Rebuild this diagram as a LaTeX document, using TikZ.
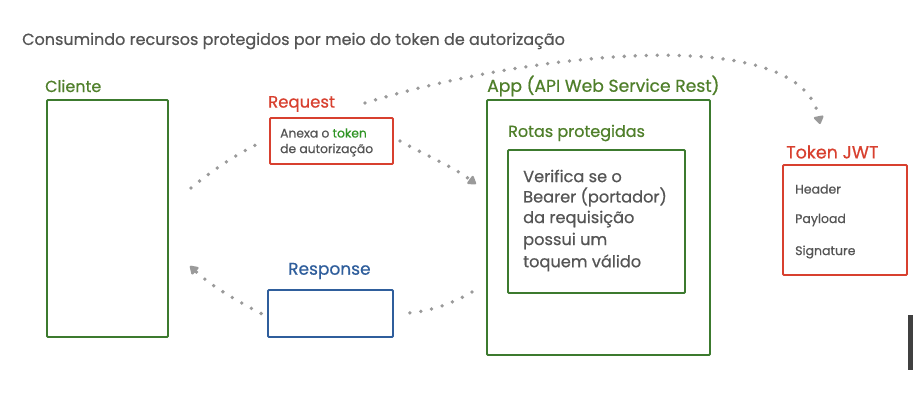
\documentclass[tikz,border=0pt]{standalone}
\usepackage{fontspec}
\setmainfont{Poppins}[FakeBold=0.6]
\usetikzlibrary{arrows.meta}
\definecolor{dgreen}{HTML}{3C7A2E}
\definecolor{lgreen}{HTML}{4F7F2A}
\definecolor{dred}{HTML}{D8402F}
\definecolor{dblue}{HTML}{2F5E9C}
\definecolor{tgray}{HTML}{555555}
\definecolor{dotgray}{HTML}{9A9A9A}
\tikzset{
  box/.style={draw, line width=1.8pt, rounded corners=1pt, inner sep=0pt},
  gbox/.style={box, draw=dgreen},
  rbox/.style={box, draw=dred},
  bbox/.style={box, draw=dblue},
  lbl/.style={anchor=west, inner sep=0pt},
  txt/.style={anchor=west, inner sep=0pt, text=tgray},
  dotline/.style={draw=dotgray, line width=3.8pt, line cap=round, dash pattern=on 0pt off 11pt},
  dotarrow/.style={dotline, -{Triangle[length=9pt,width=11pt,round]}},
}
\begin{document}
\begin{tikzpicture}[x=1pt,y=-1pt]
\useasboundingbox (0,0) rectangle (913,420);
\fill[white] (0,0) rectangle (913,420);
% title
\node[txt, font=\fontsize{16}{18}\selectfont] (title) at (22,41) {Consumindo recursos protegidos por meio do token de autorização};
% Cliente
\node[lbl, text=lgreen, font=\fontsize{16}{18}\selectfont] (clientelbl) at (45,86) {Cliente};
\node[gbox, minimum width=121pt, minimum height=237pt] (cliente) at (107.5,218.5) {};
% Request
\node[lbl, text=dred, font=\fontsize{16.5}{18}\selectfont] (reqlbl) at (268,104) {Request};
\node[rbox, minimum width=123pt, minimum height=46pt] (request) at (331.5,141) {};
\node[txt, font=\fontsize{12.3}{14}\selectfont] (req1) at (280,133) {Anexa o \textcolor{dgreen!80!green}{token}};
\node[txt, font=\fontsize{12.3}{14}\selectfont] (req2) at (280,150) {de autorização};
% App
\node[lbl, text=lgreen, font=\fontsize{17.2}{19}\selectfont] (applbl) at (487,86) {App (API Web Service Rest)};
\node[gbox, minimum width=223pt, minimum height=255pt] (app) at (598.5,227.5) {};
\node[lbl, text=lgreen, font=\fontsize{16}{18}\selectfont] (rotaslbl) at (508,133) {Rotas protegidas};
\node[gbox, minimum width=177pt, minimum height=143pt] (rotas) at (596.5,221.5) {};
\node[txt, font=\fontsize{16.2}{18}\selectfont] (v1) at (523,176) {Verifica se o};
\node[txt, font=\fontsize{16.2}{18}\selectfont] (v2) at (523,197) {Bearer (portador)};
\node[txt, font=\fontsize{16.2}{18}\selectfont] (v3) at (523,219) {da requisição};
\node[txt, font=\fontsize{16.2}{18}\selectfont] (v4) at (523,241) {possui um};
\node[txt, font=\fontsize{16.2}{18}\selectfont] (v5) at (523,263) {toquem válido};
% Token JWT
\node[lbl, text=dred, font=\fontsize{17.5}{19}\selectfont] (toklbl) at (786,152) {Token JWT};
\node[rbox, minimum width=124pt, minimum height=110pt] (token) at (845,220) {};
\node[txt, font=\fontsize{12.5}{14}\selectfont] (t1) at (795,189) {Header};
\node[txt, font=\fontsize{12.5}{14}\selectfont] (t2) at (795,220) {Payload};
\node[txt, font=\fontsize{12.5}{14}\selectfont] (t3) at (795,252) {Signature};
% Response
\node[lbl, text=dblue, font=\fontsize{17}{19}\selectfont] (resplbl) at (288,271) {Response};
\node[bbox, minimum width=125pt, minimum height=47pt] (response) at (330.5,313.5) {};
% connector end points
\coordinate (c1) at (191,188);
\coordinate (c2) at (476,184);
\coordinate (c3) at (365,103);
\coordinate (c4) at (820,124);
\coordinate (c5) at (472,292);
\coordinate (c6) at (190,266);
% dotted connectors
\path[dotline] (c1) .. controls (215,168) and (240,152) .. ([xshift=-5pt]request.west);
\path[dotarrow] ([xshift=6pt]request.east) .. controls (425,155) and (450,165) .. (c2);
\path[dotarrow] (c3) .. controls (520,55) and (800,20) .. (c4);
\path[dotline] (c5) .. controls (450,305) and (425,313) .. ([xshift=6pt]response.east);
\path[dotarrow] ([xshift=-6pt]response.west) .. controls (235,300) and (210,285) .. (c6);
% screen edge artifact
\fill[black!75] (908,315) rectangle (913,370);
\end{tikzpicture}
\end{document}
